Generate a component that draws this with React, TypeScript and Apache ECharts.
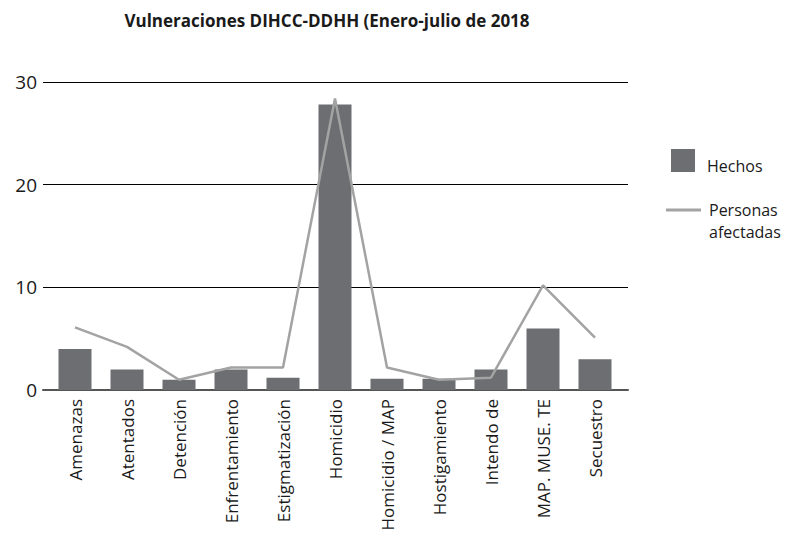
import React, { useEffect, useRef } from "react";
import * as echarts from "echarts";

const titleText = "Vulneraciones DIHCC-DDHH (Enero-julio de 2018";
const categories = [
  "Amenazas",
  "Atentados",
  "Detención",
  "Enfrentamiento",
  "Estigmatización",
  "Homicidio",
  "Homicidio / MAP",
  "Hostigamiento",
  "Intendo de",
  "MAP. MUSE. TE",
  "Secuestro",
];
const hechos = [4, 2, 1, 2, 1.2, 27.8, 1.1, 1.1, 2, 6, 3];
const personas = [6.1, 4.2, 1, 2.2, 2.2, 28.4, 2.2, 1, 1.2, 10.2, 5.1];
const yTicks = [0, 10, 20, 30];

const FONT = "'Open Sans', Lato, sans-serif";

export default function App() {
  const ref = useRef<HTMLDivElement>(null);
  useEffect(() => {
    if (!ref.current) return;
    const chart = echarts.init(ref.current, undefined, { renderer: "svg" });
    const yMin = yTicks[0];
    const yMax = yTicks[yTicks.length - 1];
    const yInterval = yTicks[1] - yTicks[0];
    chart.setOption({
      animation: false,
      backgroundColor: "#ffffff",
      textStyle: { fontFamily: FONT },
      title: {
        text: titleText,
        left: 322,
        textAlign: "center",
        top: 7,
        textStyle: { fontFamily: FONT, fontSize: 17, fontWeight: "bold", color: "#1a1a1a" },
      },
      legend: [
        {
          data: [{ name: "Hechos", icon: "rect" }],
          left: 671,
          top: 149,
          padding: 0,
          itemWidth: 24,
          itemHeight: 23,
          formatter: (n: string) => "{a|" + n + "}",
          textStyle: {
            fontFamily: FONT,
            fontSize: 16,
            color: "#1a1a1a",
            rich: {
              a: { fontFamily: FONT, fontSize: 16, color: "#1a1a1a", padding: [10, 0, 0, 7] },
            },
          },
          selectedMode: false,
        },
        {
          data: [{ name: "Personas afectadas", icon: "rect" }],
          left: 666,
          top: 177,
          padding: 0,
          itemWidth: 35,
          itemHeight: 3,
          formatter: () => " \nPersonas\nafectadas",
          textStyle: {
            fontFamily: FONT,
            fontSize: 16,
            lineHeight: 22,
            color: "#1a1a1a",
            padding: [0, 0, 0, 3],
          },
          selectedMode: false,
        },
      ],
      grid: [
        { left: 43, right: 170, top: 82, bottom: 146 },
        { left: 49, right: 177, top: 82, bottom: 146 },
      ],
      xAxis: [
        {
          type: "category",
          gridIndex: 0,
          data: categories,
          axisLine: { show: true, lineStyle: { color: "#555555", width: 2 } },
          axisTick: { show: false },
          axisLabel: { show: false },
        },
        {
          type: "category",
          gridIndex: 1,
          data: categories,
          axisLine: { show: false },
          axisTick: { show: false },
          axisLabel: {
            rotate: 90,
            interval: 0,
            margin: 9,
            fontFamily: FONT,
            fontSize: 17,
            color: "#1a1a1a",
          },
        },
      ],
      yAxis: [
        {
          type: "value",
          gridIndex: 0,
          min: yMin,
          max: yMax,
          interval: yInterval,
          axisLine: { show: false },
          axisTick: { show: false },
          axisLabel: { fontFamily: FONT, fontSize: 19, color: "#1a1a1a", margin: 6 },
          splitLine: { show: true, lineStyle: { color: "#000000", width: 1 } },
        },
        {
          type: "value",
          gridIndex: 1,
          min: yMin,
          max: yMax,
          interval: yInterval,
          show: false,
          splitLine: { show: false },
        },
      ],
      series: [
        {
          name: "Hechos",
          type: "bar",
          xAxisIndex: 1,
          yAxisIndex: 1,
          data: hechos,
          barWidth: 33,
          itemStyle: { color: "#6d6e71" },
          z: 2,
        },
        {
          name: "Personas afectadas",
          type: "line",
          xAxisIndex: 1,
          yAxisIndex: 1,
          data: personas,
          symbol: "none",
          lineStyle: { color: "#a3a3a3", width: 2.5 },
          itemStyle: { color: "#a3a3a3" },
          z: 3,
        },
      ],
    });
    return () => chart.dispose();
  }, []);
  return (
    <div
      ref={ref}
      style={{ position: "fixed", left: 0, top: 0, width: 798, height: 536 }}
    />
  );
}
